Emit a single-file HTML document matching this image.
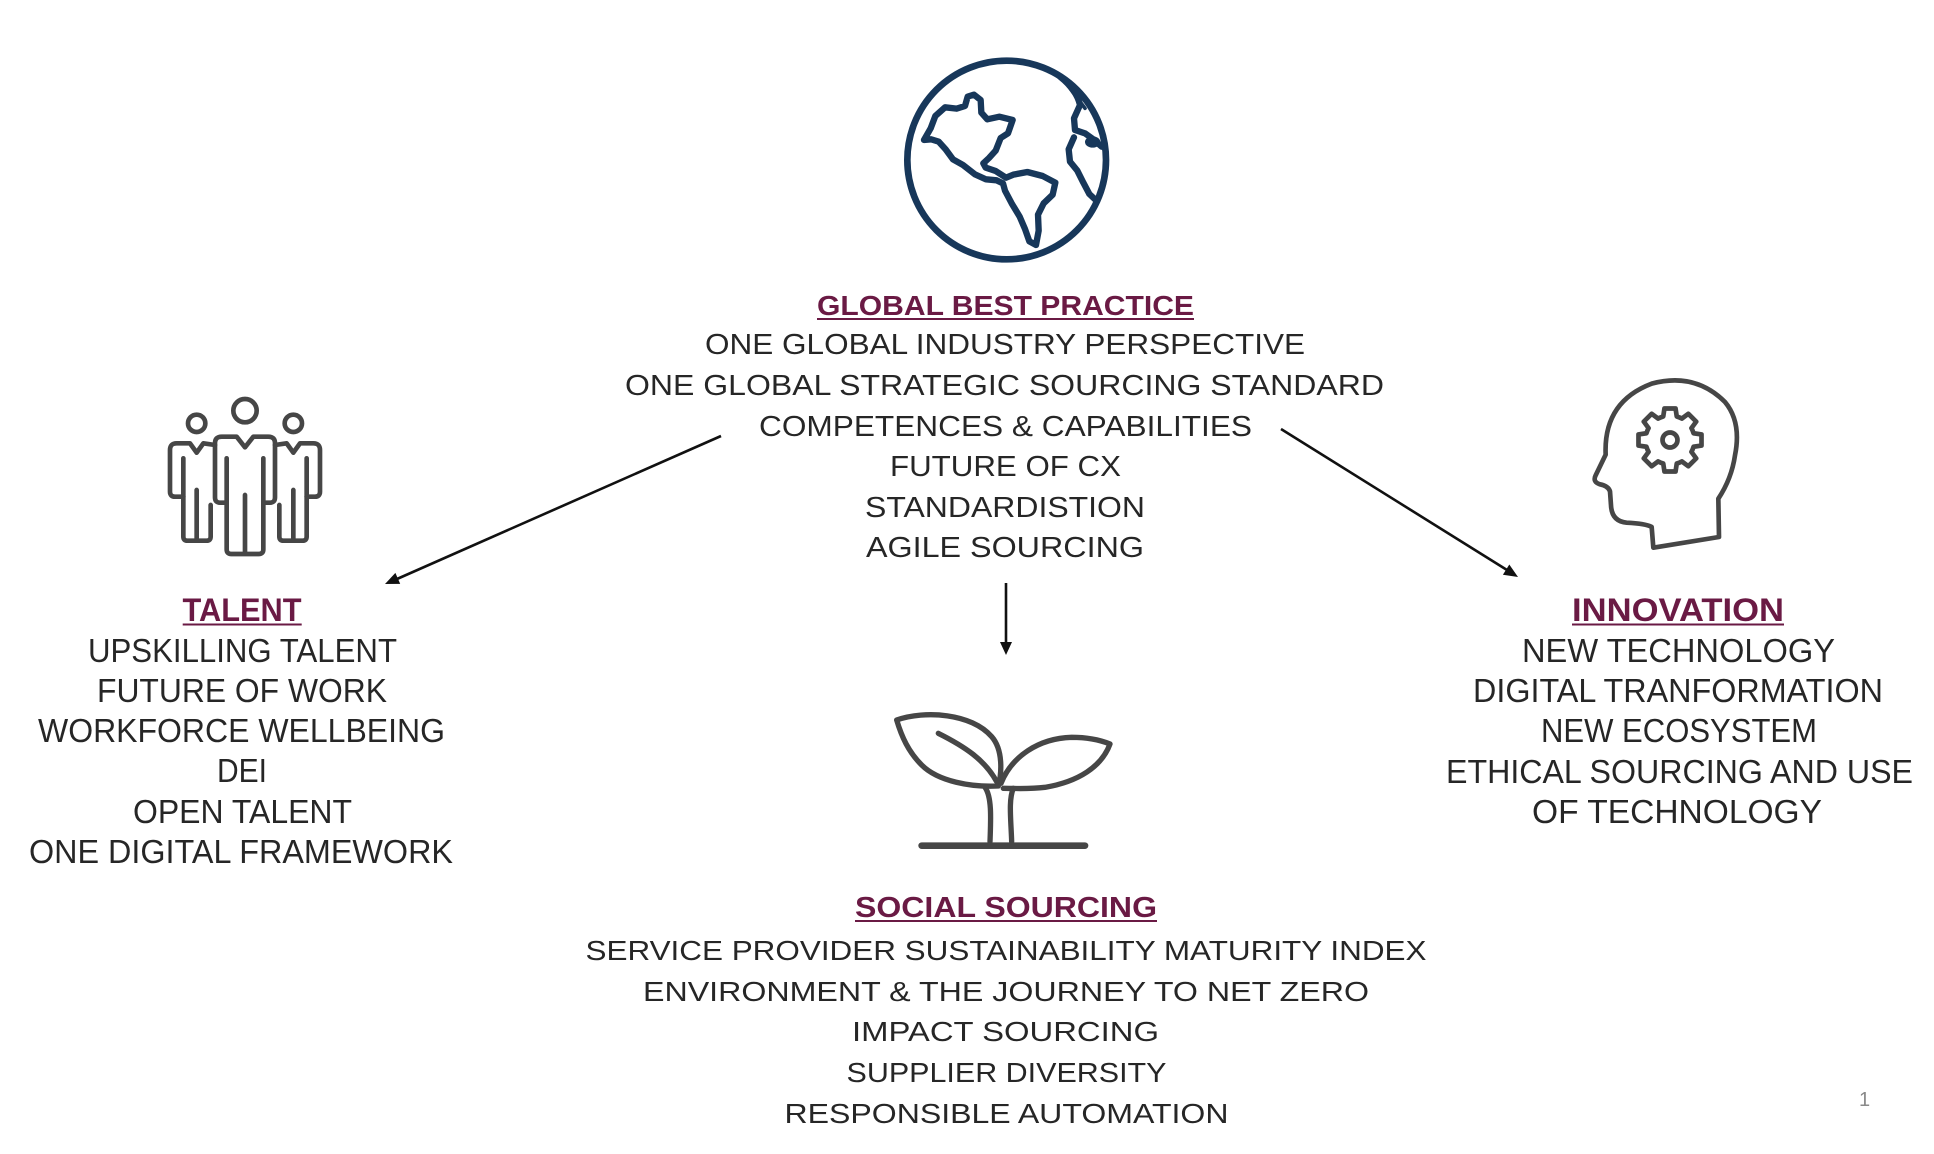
<!DOCTYPE html>
<html>
<head>
<meta charset="utf-8">
<style>
  html, body { margin: 0; padding: 0; background: #ffffff; }
  body { width: 1934px; height: 1154px; overflow: hidden; }
  svg { display: block; }
  .t { font-family: "Liberation Sans", sans-serif; fill: #262626; }
  .h { font-family: "Liberation Sans", sans-serif; font-weight: bold; fill: #6a1a44; }
</style>
</head>
<body>
<svg width="1934" height="1154" viewBox="0 0 1934 1154" xmlns="http://www.w3.org/2000/svg">
  <rect width="1934" height="1154" fill="#ffffff"/>

  <!-- Globe icon -->
  <g transform="translate(900,50) scale(0.33333)" fill="none" stroke="#17375a" stroke-linejoin="round" stroke-linecap="round">
    <circle cx="320" cy="330" r="298" stroke-width="20"/>
    <path stroke-width="19" d="M72,270 L92,235 L106,198 L135,172 L170,176 L195,168 L203,140 L222,134 L242,150 L244,188 L262,208 L298,200 L338,210 L324,250 L302,264 L287,302 L267,324 L250,340 L257,353 L287,363 L318,383 L340,374 L382,366 L428,378 L466,398 L458,434 L431,460 L414,494 L416,542 L408,585 L388,574 L375,537 L359,500 L335,460 L315,422 L309,400 L290,391 L258,388 L225,373 L189,345 L159,328 L137,298 L116,275 L94,268 Z"/>
    <path stroke-width="19" d="M480,80 Q530,120 540,165 L522,205 L525,240 L555,250 L580,268 L605,290"/>
    <path stroke-width="19" d="M522,262 L506,298 L510,335 L532,362 L550,398 L568,432 L585,448"/>
    <path stroke-width="11" d="M495,95 L555,175"/>
    <ellipse cx="578" cy="276" rx="20" ry="14" fill="#17375a" stroke-width="6"/>
  </g>

  <!-- Talent icon (people) -->
  <g transform="translate(160,390) scale(0.33333)" fill="none" stroke="#464646" stroke-width="14" stroke-linejoin="round" stroke-linecap="round">
    <circle cx="255" cy="62" r="35"/>
    <circle cx="110" cy="100" r="26"/>
    <circle cx="400" cy="100" r="26"/>
    <path d="M230,140 L255,172 L280,140 L325,140 Q345,140 345,160 L345,322 Q345,338 330,338 L310,338 L310,478 Q310,492 296,492 L214,492 Q200,492 200,478 L200,338 L180,338 Q165,338 165,322 L165,160 Q165,140 185,140 Z"/>
    <path d="M200,205 L200,338 M310,205 L310,338 M255,315 L255,490"/>
    <path d="M165,165 L130,160 L110,188 L90,160 L50,160 Q30,160 30,180 L30,305 Q30,320 45,320 L70,320 L70,440 Q70,452 82,452 L140,452 Q152,452 152,440 L152,345"/>
    <path d="M70,205 L70,320 M110,300 L110,450"/>
    <path d="M345,165 L380,160 L400,188 L420,160 L460,160 Q480,160 480,180 L480,305 Q480,320 465,320 L440,320 L440,440 Q440,452 428,452 L370,452 Q358,452 358,440 L358,345"/>
    <path d="M440,205 L440,320 M400,300 L400,450"/>
  </g>

  <!-- Innovation icon (head + gear) -->
  <g transform="translate(1585,372) scale(0.33333)" fill="none" stroke="#464646" stroke-width="14" stroke-linejoin="round" stroke-linecap="round">
    <path d="M205,527 L200,465 Q185,455 125,452 Q80,448 78,400 L75,358 Q70,342 45,337 Q22,330 32,310 L62,248 Q55,90 200,35 Q330,0 420,90 Q470,150 450,250 Q440,320 400,380 L402,495 Z"/>
  </g>
  <g transform="translate(1670,440)" fill="none" stroke="#464646" stroke-width="4.7" stroke-linejoin="round">
    <path d="M23.55,-6.75 L31.51,-5.56 L31.51,5.56 L23.55,6.75 A24.5,24.5 0 0 1 21.43,11.88 L26.21,18.35 L18.35,26.21 L11.88,21.43 A24.5,24.5 0 0 1 6.75,23.55 L5.56,31.51 L-5.56,31.51 L-6.75,23.55 A24.5,24.5 0 0 1 -11.88,21.43 L-18.35,26.21 L-26.21,18.35 L-21.43,11.88 A24.5,24.5 0 0 1 -23.55,6.75 L-31.51,5.56 L-31.51,-5.56 L-23.55,-6.75 A24.5,24.5 0 0 1 -21.43,-11.88 L-26.21,-18.35 L-18.35,-26.21 L-11.88,-21.43 A24.5,24.5 0 0 1 -6.75,-23.55 L-5.56,-31.51 L5.56,-31.51 L6.75,-23.55 A24.5,24.5 0 0 1 11.88,-21.43 L18.35,-26.21 L26.21,-18.35 L21.43,-11.88 A24.5,24.5 0 0 1 23.55,-6.75 Z"/>
    <circle cx="0" cy="0" r="7.5"/>
  </g>

  <!-- Social sourcing icon (plant) -->
  <g transform="translate(885,700) scale(0.33333)" fill="none" stroke="#464646" stroke-width="16" stroke-linejoin="round" stroke-linecap="round">
    <path d="M35,60 C120,30 260,40 320,110 C355,150 350,220 340,258 C260,262 160,245 110,195 C70,155 50,110 35,60 Z"/>
    <path d="M160,100 C240,140 300,180 335,245"/>
    <path d="M348,250 C380,170 460,115 560,112 C610,112 650,122 675,132 C650,200 580,245 480,262 C430,268 390,265 355,265"/>
    <path d="M300,262 C320,290 318,350 315,425 M385,265 C370,300 378,360 380,425"/>
    <path d="M110,437 L600,437" stroke-width="20"/>
  </g>

  <!-- Arrows -->
  <g stroke="#111" stroke-width="2.6" fill="none">
    <line x1="721" y1="436" x2="397" y2="579"/>
    <line x1="1281" y1="429" x2="1507" y2="570"/>
    <line x1="1006" y1="583" x2="1006" y2="643"/>
  </g>
  <g fill="#111">
    <polygon points="385,584 400.2,583.9 395.4,572.9"/>
    <polygon points="1518,577 1502.9,574.7 1509.3,564.5"/>
    <polygon points="1006,655 1000,642 1012,642"/>
  </g>

  <!-- GLOBAL BEST PRACTICE -->
  <text class="h" x="1005.5" y="315" font-size="28" text-anchor="middle" textLength="377" lengthAdjust="spacingAndGlyphs">GLOBAL BEST PRACTICE</text>
  <rect x="817" y="318" width="377" height="2" fill="#6a1a44"/>
  <g class="t" font-size="29" text-anchor="middle">
    <text class="t" x="1005" y="354" textLength="600" lengthAdjust="spacingAndGlyphs">ONE GLOBAL INDUSTRY PERSPECTIVE</text>
    <text class="t" x="1004.5" y="395" textLength="759" lengthAdjust="spacingAndGlyphs">ONE GLOBAL STRATEGIC SOURCING STANDARD</text>
    <text class="t" x="1005.5" y="436" textLength="493" lengthAdjust="spacingAndGlyphs">COMPETENCES &amp; CAPABILITIES</text>
    <text class="t" x="1005.5" y="476" textLength="231" lengthAdjust="spacingAndGlyphs">FUTURE OF CX</text>
    <text class="t" x="1005" y="517" textLength="280" lengthAdjust="spacingAndGlyphs">STANDARDISTION</text>
    <text class="t" x="1005" y="557" textLength="278" lengthAdjust="spacingAndGlyphs">AGILE SOURCING</text>
  </g>

  <!-- TALENT -->
  <text class="h" x="242" y="621" font-size="32" text-anchor="middle" textLength="119" lengthAdjust="spacingAndGlyphs">TALENT</text>
  <rect x="182.7" y="623.5" width="119" height="2" fill="#6a1a44"/>
  <g class="t" font-size="33" text-anchor="middle">
    <text class="t" x="242.5" y="662" textLength="309" lengthAdjust="spacingAndGlyphs">UPSKILLING TALENT</text>
    <text class="t" x="242" y="702" textLength="290" lengthAdjust="spacingAndGlyphs">FUTURE OF WORK</text>
    <text class="t" x="241.5" y="742" textLength="407" lengthAdjust="spacingAndGlyphs">WORKFORCE WELLBEING</text>
    <text class="t" x="242" y="782" textLength="50" lengthAdjust="spacingAndGlyphs">DEI</text>
    <text class="t" x="242.5" y="823" textLength="219" lengthAdjust="spacingAndGlyphs">OPEN TALENT</text>
    <text class="t" x="241" y="863" textLength="424" lengthAdjust="spacingAndGlyphs">ONE DIGITAL FRAMEWORK</text>
  </g>

  <!-- INNOVATION -->
  <text class="h" x="1678" y="621" font-size="32" text-anchor="middle" textLength="212" lengthAdjust="spacingAndGlyphs">INNOVATION</text>
  <rect x="1572" y="623.5" width="212" height="2" fill="#6a1a44"/>
  <g class="t" font-size="33" text-anchor="middle">
    <text class="t" x="1678.5" y="662" textLength="313" lengthAdjust="spacingAndGlyphs">NEW TECHNOLOGY</text>
    <text class="t" x="1678" y="702" textLength="410" lengthAdjust="spacingAndGlyphs">DIGITAL TRANFORMATION</text>
    <text class="t" x="1679" y="742" textLength="276" lengthAdjust="spacingAndGlyphs">NEW ECOSYSTEM</text>
    <text class="t" x="1679.5" y="783" textLength="467" lengthAdjust="spacingAndGlyphs">ETHICAL SOURCING AND USE</text>
    <text class="t" x="1677" y="823" textLength="290" lengthAdjust="spacingAndGlyphs">OF TECHNOLOGY</text>
  </g>

  <!-- SOCIAL SOURCING -->
  <text class="h" x="1006" y="917" font-size="29" text-anchor="middle" textLength="302" lengthAdjust="spacingAndGlyphs">SOCIAL SOURCING</text>
  <rect x="855" y="920" width="302" height="2" fill="#6a1a44"/>
  <g class="t" font-size="28" text-anchor="middle">
    <text class="t" x="1006" y="960" textLength="841" lengthAdjust="spacingAndGlyphs">SERVICE PROVIDER SUSTAINABILITY MATURITY INDEX</text>
    <text class="t" x="1006" y="1001" textLength="726" lengthAdjust="spacingAndGlyphs">ENVIRONMENT &amp; THE JOURNEY TO NET ZERO</text>
    <text class="t" x="1005.5" y="1041" textLength="307" lengthAdjust="spacingAndGlyphs">IMPACT SOURCING</text>
    <text class="t" x="1006.5" y="1082" textLength="320" lengthAdjust="spacingAndGlyphs">SUPPLIER DIVERSITY</text>
    <text class="t" x="1006.5" y="1123" textLength="444" lengthAdjust="spacingAndGlyphs">RESPONSIBLE AUTOMATION</text>
  </g>

  <!-- Page number -->
  <text x="1864.5" y="1106" font-family="Liberation Sans, sans-serif" font-size="20" fill="#8a8a8a" text-anchor="middle">1</text>
</svg>
</body>
</html>
